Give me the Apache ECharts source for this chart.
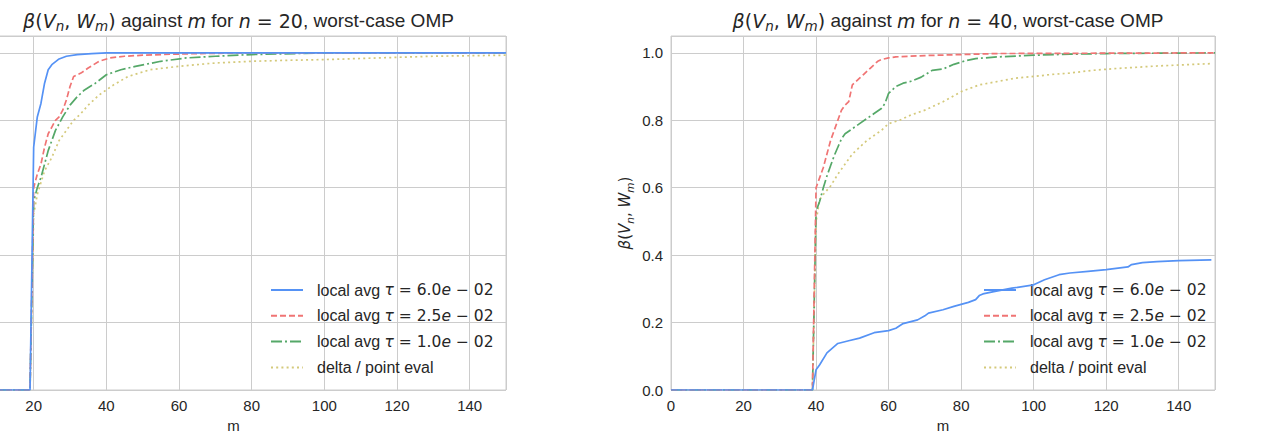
<!DOCTYPE html>
<html>
<head>
<meta charset="utf-8">
<script src="https://cdn.jsdelivr.net/npm/echarts@6/dist/echarts.min.js"></script>
<style>
  html, body { margin: 0; padding: 0; background: #fff; }
  #chart { width: 1272px; height: 437px; }
</style>
</head>
<body>
<div id="chart"></div>
<script>
// n = 20 (left panel)
const blueL_m = [0, 19, 20, 21, 22, 23, 24, 25, 27, 29, 32, 36, 40, 60, 100, 150];
const blueL_v = [0, 0, 0.72, 0.81, 0.85, 0.91, 0.95, 0.965, 0.982, 0.99, 0.995, 0.998, 1.0, 1.0, 1.0, 1.0];
const redL_m = [0, 19, 20, 21, 22, 23, 24, 25, 26, 27, 28, 29, 30, 31, 33, 35, 38, 41, 45, 50, 58, 66, 80, 150];
const redL_v = [0, 0, 0.60, 0.64, 0.67, 0.72, 0.76, 0.78, 0.80, 0.81, 0.83, 0.86, 0.90, 0.93, 0.94, 0.955, 0.975, 0.985, 0.99, 0.993, 0.996, 0.998, 1.0, 1.0];
const greenL_m = [0, 19, 20, 21, 22, 23, 24, 25, 26, 27, 28, 30, 32, 34, 37, 40, 44, 48, 55, 62, 70, 80, 100, 150];
const greenL_v = [0, 0, 0.56, 0.60, 0.63, 0.67, 0.71, 0.74, 0.77, 0.79, 0.81, 0.845, 0.87, 0.89, 0.91, 0.935, 0.95, 0.96, 0.975, 0.985, 0.99, 0.995, 1.0, 1.0];
const yellowL_m = [0, 19, 20, 21, 23, 25, 27, 29, 31, 33, 35, 38, 42, 46, 52, 60, 70, 80, 90, 100, 115, 130, 150];
const yellowL_v = [0, 0, 0.52, 0.58, 0.65, 0.69, 0.74, 0.77, 0.80, 0.82, 0.845, 0.875, 0.905, 0.93, 0.95, 0.96, 0.97, 0.975, 0.978, 0.98, 0.985, 0.99, 0.993];

// n = 40 (right panel)
const blueR_m = [0, 39, 40, 41, 43, 46, 49, 52, 56, 60, 62, 64, 68, 70, 71, 75, 78, 82, 84, 85, 86, 89, 94, 100, 103, 107, 110, 115, 120, 126, 127, 130, 134, 140, 149];
const blueR_v = [0, 0, 0.06, 0.075, 0.11, 0.138, 0.146, 0.154, 0.17, 0.176, 0.183, 0.197, 0.208, 0.22, 0.228, 0.238, 0.248, 0.26, 0.268, 0.28, 0.285, 0.292, 0.302, 0.312, 0.327, 0.342, 0.347, 0.352, 0.357, 0.365, 0.372, 0.378, 0.381, 0.384, 0.386];
const redR_m = [0, 39, 40, 41, 42, 43, 44, 45, 46, 47, 48, 49, 50, 51, 52, 53, 54, 55, 56, 57, 58, 60, 62, 66, 70, 80, 90, 150];
const redR_v = [0, 0, 0.60, 0.63, 0.66, 0.70, 0.74, 0.77, 0.80, 0.83, 0.845, 0.855, 0.905, 0.915, 0.925, 0.935, 0.945, 0.955, 0.965, 0.975, 0.98, 0.985, 0.988, 0.99, 0.992, 0.995, 0.998, 1.0];
const greenR_m = [0, 39, 40, 41, 42, 43, 44, 45, 46, 47, 48, 50, 52, 54, 56, 58, 59, 60, 62, 64, 66, 69, 72, 75, 78, 81, 84, 90, 100, 110, 120, 150];
const greenR_v = [0, 0, 0.53, 0.56, 0.60, 0.635, 0.665, 0.695, 0.72, 0.745, 0.76, 0.775, 0.79, 0.805, 0.82, 0.835, 0.85, 0.88, 0.90, 0.91, 0.915, 0.928, 0.948, 0.952, 0.966, 0.976, 0.983, 0.988, 0.993, 0.996, 0.998, 1.0];
const yellowR_m = [0, 39, 40, 41, 42, 44, 46, 48, 50, 52, 54, 56, 58, 60, 63, 66, 70, 75, 80, 85, 90, 95, 100, 105, 110, 116, 122, 128, 134, 140, 149];
const yellowR_v = [0, 0, 0.50, 0.565, 0.58, 0.605, 0.64, 0.67, 0.70, 0.72, 0.74, 0.755, 0.77, 0.79, 0.80, 0.815, 0.83, 0.855, 0.885, 0.905, 0.915, 0.925, 0.93, 0.936, 0.94, 0.948, 0.953, 0.957, 0.961, 0.964, 0.968];

const seriesNames = ['tau60', 'tau25', 'tau10', 'delta'];
const legendTexts = {
    tau60: '{p|local avg }{mi|τ}{mr| = 6.0}{mi|e}{mr| − 02}',
    tau25: '{p|local avg }{mi|τ}{mr| = 2.5}{mi|e}{mr| − 02}',
    tau10: '{p|local avg }{mi|τ}{mr| = 1.0}{mi|e}{mr| − 02}',
    delta: '{p|delta / point eval}'
};
const nValues = [20, 40];

const colors = ['#5592f5', '#f07474', '#55a868', '#d4c97a'];
const dashes = ['solid', [6, 3], [11, 3, 2, 3], [2, 3.2]];
const lw = 1.7;

const textColor = '#262626';
const gridColor = '#cccccc';

function pairs(ms, vs) {
    return ms.map((m, i) => [m, vs[i]]);
}

const titleRich = {
    t: { fontFamily: 'Liberation Sans', fontWeight: 'normal', fontSize: 19, lineHeight: 25, color: textColor },
    mi: { fontFamily: 'DejaVu Sans', fontWeight: 'normal', fontStyle: 'italic', fontSize: 19, lineHeight: 25, color: textColor },
    mr: { fontFamily: 'DejaVu Sans', fontWeight: 'normal', fontSize: 19, lineHeight: 25, color: textColor },
    sub: { fontFamily: 'DejaVu Sans', fontWeight: 'normal', fontStyle: 'italic', fontSize: 13.5, lineHeight: 14, verticalAlign: 'bottom', color: textColor }
};
const nameRich = {
    mi: { fontFamily: 'DejaVu Sans', fontStyle: 'italic', fontSize: 15, lineHeight: 20, color: textColor },
    mr: { fontFamily: 'DejaVu Sans', fontSize: 15, lineHeight: 20, color: textColor },
    sub: { fontFamily: 'DejaVu Sans', fontStyle: 'italic', fontSize: 10.5, lineHeight: 11, verticalAlign: 'bottom', color: textColor }
};
const legendRich = {
    p: { fontFamily: 'Liberation Sans', fontSize: 16, lineHeight: 18, color: textColor, padding: [0, 0, 0, 9] },
    mi: { fontFamily: 'DejaVu Sans', fontStyle: 'italic', fontSize: 15.5, lineHeight: 18, color: textColor },
    mr: { fontFamily: 'DejaVu Sans', fontSize: 15.5, lineHeight: 18, color: textColor }
};

function titleText(n) {
    return '{mi|β}{mr|(}{mi|V}{sub|n}{mr|, }{mi|W}{sub|m}{mr|)}{t| against }{mi|m}{t| for }{mi|n}{mr| = ' + n + '}{t|, worst-case OMP}';
}

const grids = [
    { left: -39, width: 545, top: 36, height: 354 },
    { left: 671, width: 544, top: 36, height: 354 }
];

const chart = echarts.init(document.getElementById('chart'), null, { renderer: 'svg' });

const panelData = [
    [pairs(blueL_m, blueL_v), pairs(redL_m, redL_v), pairs(greenL_m, greenL_v), pairs(yellowL_m, yellowL_v)],
    [pairs(blueR_m, blueR_v), pairs(redR_m, redR_v), pairs(greenR_m, greenR_v), pairs(yellowR_m, yellowR_v)]
];

const series = [];
panelData.forEach((lines, gi) => {
    lines.forEach((d, si) => {
        series.push({
            name: seriesNames[si],
            type: 'line',
            xAxisIndex: gi,
            yAxisIndex: gi,
            data: d,
            symbol: 'none',
            animation: false,
            z: 10 - si,
            lineStyle: { color: colors[si], width: lw, type: dashes[si] },
            itemStyle: { color: colors[si] }
        });
    });
});

chart.setOption({
    backgroundColor: '#ffffff',
    animation: false,
    title: grids.map((g, i) => ({
        text: titleText(nValues[i]),
        left: g.left + g.width / 2,
        top: 3,
        textAlign: 'center',
        textStyle: { fontWeight: 'normal', rich: titleRich }
    })),
    grid: grids.map(g => Object.assign({
        show: true,
        borderColor: gridColor,
        borderWidth: 1,
        containLabel: false,
        outerBoundsMode: 'none'
    }, g)),
    legend: grids.map((g, i) => ({
        orient: 'vertical',
        left: i === 0 ? 265 : 978,
        top: 277,
        itemWidth: 32,
        itemHeight: 18,
        itemGap: 9.8,
        data: seriesNames,
        formatter: name => legendTexts[name],
        itemStyle: { opacity: 0 },
        textStyle: { rich: legendRich },
        selectedMode: false
    })),
    xAxis: grids.map((g, i) => ({
        type: 'value',
        gridIndex: i,
        min: 0,
        max: 150,
        interval: 20,
        name: 'm',
        nameLocation: 'middle',
        nameGap: 22,
        nameTextStyle: { fontFamily: 'Liberation Sans', fontSize: 15, color: textColor },
        axisLine: { show: false },
        axisTick: { show: false },
        splitLine: { show: true, lineStyle: { color: gridColor, width: 1 } },
        axisLabel: {
            fontFamily: 'Liberation Sans',
            fontSize: 15,
            color: textColor,
            margin: 8,
            // the left panel's 0 sits off the picture
            formatter: v => (v % 20 === 0 && !(i === 0 && v === 0) ? String(v) : '')
        }
    })),
    yAxis: grids.map((g, i) => ({
        type: 'value',
        gridIndex: i,
        min: 0,
        max: 1.05,
        interval: 0.2,
        // left panel's y labels and name fall outside the picture
        name: i === 0 ? '' : '{mi|β}{mr|(}{mi|V}{sub|n}{mr|, }{mi|W}{sub|m}{mr|)}',
        nameLocation: 'middle',
        nameRotate: 90,
        nameGap: 36,
        nameTextStyle: { rich: nameRich },
        axisLine: { show: false },
        axisTick: { show: false },
        splitLine: { show: true, lineStyle: { color: gridColor, width: 1 } },
        axisLabel: {
            show: i === 1,
            fontFamily: 'Liberation Sans',
            fontSize: 15,
            color: textColor,
            margin: 8,
            formatter: v => (Math.abs(v * 5 - Math.round(v * 5)) < 1e-6 ? v.toFixed(1) : '')
        }
    })),
    series: series
});
</script>
</body>
</html>
